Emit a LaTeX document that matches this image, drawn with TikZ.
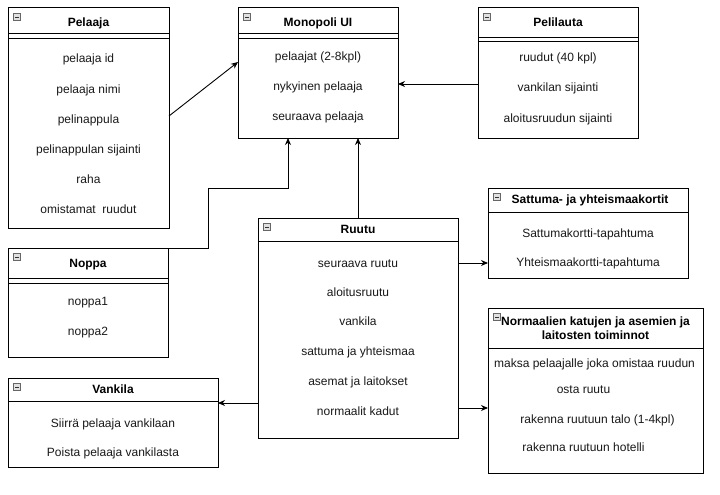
\documentclass[tikz,border=0pt]{standalone}
\usepackage{fontspec}
\setmainfont{Liberation Sans}
\usetikzlibrary{arrows.meta,calc}
\tikzset{
  box/.style={draw=black, line width=1pt, fill=white, anchor=north west, inner sep=0pt, outer sep=0pt},
  item/.style={font=\fontsize{12}{14}\selectfont, text=black!90, inner sep=0pt, anchor=base},
  ttl/.style={font=\fontsize{12}{14}\selectfont\bfseries, inner sep=0pt, anchor=base},
  arr/.style={draw=black, line width=0.9pt, -{Stealth[length=7pt,width=6pt]}},
  sep/.style={line width=1pt},
  icon/.style={draw=black!60, fill=black!12, line width=0.6pt}
}
\newcommand{\mkicon}[1]{%
  \draw[icon] ($(#1.north west)+(5.5,5.5)$) rectangle ++(7,7);
  \draw[line width=0.8pt, black!80] ($(#1.north west)+(7,9)$) -- ++(4,0);
}
\begin{document}
\begin{tikzpicture}[x=1pt,y=-1pt]
\useasboundingbox[fill=white] (0,0) rectangle (720,495);

% Pelaaja
\node[box, minimum width=161pt, minimum height=220pt] (pelaaja) at (8,8) {};
\mkicon{pelaaja}
\node[ttl] (pelaajat) at ($(pelaaja.north)+(0,19)$) {Pelaaja};
\draw[sep] ($(pelaaja.north west)+(0,26)$) -- ($(pelaaja.north east)+(0,26)$);
\draw[sep] ($(pelaaja.north west)+(0,31)$) -- ($(pelaaja.north east)+(0,31)$);
\node[item] (p1) at ($(pelaaja.north)+(0,55)$) {pelaaja id};
\node[item] (p2) at ($(pelaaja.north)+(0,85)$) {pelaaja nimi};
\node[item] (p3) at ($(pelaaja.north)+(0,115)$) {pelinappula};
\node[item] (p4) at ($(pelaaja.north)+(0,145)$) {pelinappulan sijainti};
\node[item] (p5) at ($(pelaaja.north)+(0,175)$) {raha};
\node[item] (p6) at ($(pelaaja.north)+(0,205)$) {omistamat\ \ ruudut};

% Monopoli UI
\node[box, minimum width=160pt, minimum height=130pt] (monopoli) at (238,8) {};
\mkicon{monopoli}
\node[ttl] (monopolit) at ($(monopoli.north)+(0,19)$) {Monopoli UI};
\draw[sep] ($(monopoli.north west)+(0,26)$) -- ($(monopoli.north east)+(0,26)$);
\draw[sep] ($(monopoli.north west)+(0,31)$) -- ($(monopoli.north east)+(0,31)$);
\node[item] (m1) at ($(monopoli.north)+(0,53)$) {pelaajat (2-8kpl)};
\node[item] (m2) at ($(monopoli.north)+(0,82)$) {nykyinen pelaaja};
\node[item] (m3) at ($(monopoli.north)+(0,112)$) {seuraava pelaaja};

% Pelilauta
\node[box, minimum width=160pt, minimum height=130pt] (pelilauta) at (478,8) {};
\mkicon{pelilauta}
\node[ttl] (pelilautat) at ($(pelilauta.north)+(0,19)$) {Pelilauta};
\draw[sep] ($(pelilauta.north west)+(0,30)$) -- ($(pelilauta.north east)+(0,30)$);
\draw[sep] ($(pelilauta.north west)+(0,34)$) -- ($(pelilauta.north east)+(0,34)$);
\node[item] (l1) at ($(pelilauta.north)+(0,54)$) {ruudut (40 kpl)};
\node[item] (l2) at ($(pelilauta.north)+(0,84)$) {vankilan sijainti};
\node[item] (l3) at ($(pelilauta.north)+(0,114)$) {aloitusruudun sijainti};

% Noppa
\node[box, minimum width=160pt, minimum height=109pt] (noppa) at (8,248) {};
\mkicon{noppa}
\node[ttl] (noppat) at ($(noppa.north)+(0,19)$) {Noppa};
\draw[sep] ($(noppa.north west)+(0,30)$) -- ($(noppa.north east)+(0,30)$);
\draw[sep] ($(noppa.north west)+(0,35)$) -- ($(noppa.north east)+(0,35)$);
\node[item] (n1) at ($(noppa.north)+(0,57)$) {noppa1};
\node[item] (n2) at ($(noppa.north)+(0,87)$) {noppa2};

% Vankila
\node[box, minimum width=210pt, minimum height=89pt] (vankila) at (8,378) {};
\mkicon{vankila}
\node[ttl] (vankilat) at ($(vankila.north)+(0,15)$) {Vankila};
\draw[sep] ($(vankila.north west)+(0,23)$) -- ($(vankila.north east)+(0,23)$);
\node[item] (v1) at ($(vankila.north)+(0,49)$) {Siirrä pelaaja vankilaan};
\node[item] (v2) at ($(vankila.north)+(0,78)$) {Poista pelaaja vankilasta};

% Ruutu
\node[box, minimum width=200pt, minimum height=220pt] (ruutu) at (258,218) {};
\mkicon{ruutu}
\node[ttl] (ruutut) at ($(ruutu.north)+(0,15)$) {Ruutu};
\draw[sep] ($(ruutu.north west)+(0,23)$) -- ($(ruutu.north east)+(0,23)$);
\node[item] (r1) at ($(ruutu.north)+(0,49)$) {seuraava ruutu};
\node[item] (r2) at ($(ruutu.north)+(0,78)$) {aloitusruutu};
\node[item] (r3) at ($(ruutu.north)+(0,107)$) {vankila};
\node[item] (r4) at ($(ruutu.north)+(0,137)$) {sattuma ja yhteismaa};
\node[item] (r5) at ($(ruutu.north)+(0,167)$) {asemat ja laitokset};
\node[item] (r6) at ($(ruutu.north)+(0,197)$) {normaalit kadut};

% Sattuma
\node[box, minimum width=200pt, minimum height=90pt] (sattuma) at (488,188) {};
\mkicon{sattuma}
\node[ttl] (sattumat) at ($(sattuma.north)+(2,15)$) {Sattuma- ja yhteismaakortit};
\draw[sep] ($(sattuma.north west)+(0,24)$) -- ($(sattuma.north east)+(0,24)$);
\node[item] (s1) at ($(sattuma.north)+(0,49)$) {Sattumakortti-tapahtuma};
\node[item] (s2) at ($(sattuma.north)+(0,78)$) {Yhteismaakortti-tapahtuma};

% Normaalien
\node[box, minimum width=215pt, minimum height=165pt] (normaalien) at (488,308) {};
\mkicon{normaalien}
\node[ttl] (normaalient1) at ($(normaalien.north)+(0,17)$) {Normaalien katujen ja asemien ja};
\node[ttl] (normaalient2) at ($(normaalien.north)+(0,31)$) {laitosten toiminnot};
\draw[sep] ($(normaalien.north west)+(0,40)$) -- ($(normaalien.north east)+(0,40)$);
\node[item] (k1) at ($(normaalien.north)+(-1,59)$) {maksa pelaajalle joka omistaa ruudun};
\node[item] (k2) at ($(normaalien.north)+(-12,85)$) {osta ruutu};
\node[item] (k3) at ($(normaalien.north)+(2,115)$) {rakenna ruutuun talo (1-4kpl)};
\node[item] (k4) at ($(normaalien.north)+(-12,143)$) {rakenna ruutuun hotelli};

% Connectors
\draw[arr] ($(pelaaja.north east)+(0,108)$) -- ($(monopoli.north west)+(0,54)$);
\draw[arr] ($(pelilauta.north west)+(0,76)$) -- ($(monopoli.north east)+(0,76)$);
\draw[arr] (noppa.north east) -- ++(40,0) |- ($(monopoli.south)+(-30,50)$) -- ($(monopoli.south)+(-30,0)$);
\draw[arr] (ruutu.north) -- (ruutu.north |- monopoli.south);
\draw[arr] ($(ruutu.north east)+(0,45)$) -- ($(sattuma.north west)+(0,75)$);
\draw[arr] ($(ruutu.north east)+(0,190)$) -- ($(normaalien.north west)+(0,100)$);
\draw[arr] ($(ruutu.north west)+(0,185)$) -- ($(vankila.north east)+(0,25)$);
\end{tikzpicture}
\end{document}
